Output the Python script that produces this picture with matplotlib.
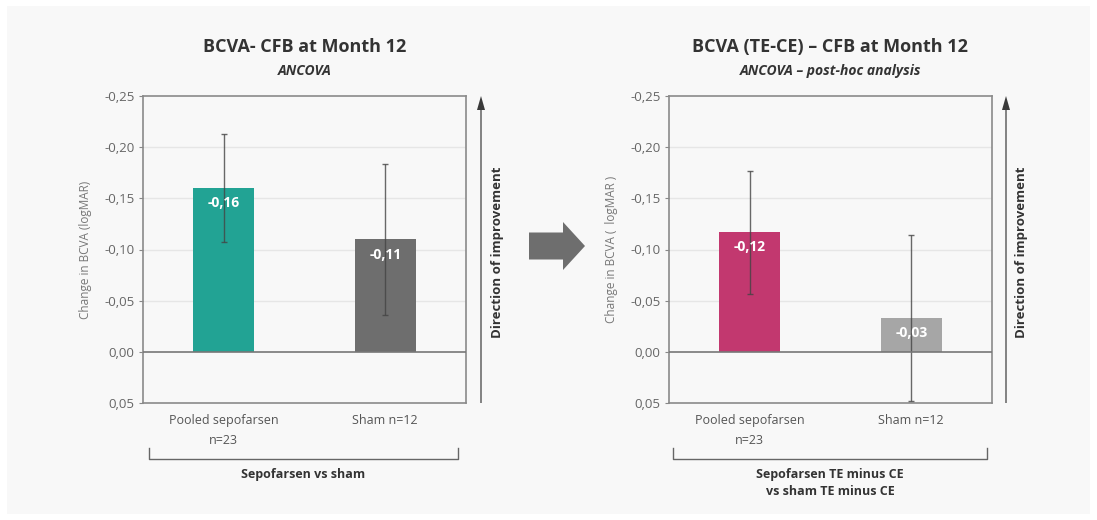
import matplotlib.pyplot as plt
from matplotlib.patches import Rectangle, FancyArrow

plt.rcParams['font.family'] = ['Open Sans', 'DejaVu Sans']

# data
groups = ["Pooled sepofarsen\nn=23", "Sham n=12"]
left_values = [-0.16, -0.11]
left_err = [0.053, 0.074]
right_values = [-0.117, -0.033]
right_err = [0.06, 0.081]
value_labels_left = ["-0,16", "-0,11"]
value_labels_right = ["-0,12", "-0,03"]
ticks = [-0.25, -0.20, -0.15, -0.10, -0.05, 0.00, 0.05]
tick_labels = ["-0,25", "-0,20", "-0,15", "-0,10", "-0,05", "0,00", "0,05"]

W, H = 1097, 520
fig = plt.figure(figsize=(W / 100, H / 100), dpi=100, facecolor="white")
fig.patches.append(Rectangle((7 / W, 1 - 514 / H), 1083 / W, 508 / H,
                             transform=fig.transFigure, facecolor="#f8f8f8",
                             edgecolor="none", zorder=-5))


def px(x0, y0, x1, y1):
    return [x0 / W, 1 - y1 / H, (x1 - x0) / W, (y1 - y0) / H]


def panel(rect, values, errs, labels, colors, title, subtitle, ylabel,
          group_text, arrow_x, bracket):
    ax = fig.add_axes(px(*rect))
    ax.set_facecolor("none")
    xs = [0.5, 1.5]
    ax.bar(xs, values, width=0.38, color=colors, zorder=2)
    ax.errorbar(xs, values, yerr=errs, fmt="none", ecolor="#444444",
                elinewidth=1.0, capsize=2.5, capthick=1.0, alpha=0.8, zorder=3)
    for x, v, lab in zip(xs, values, labels):
        ax.text(x, v + 0.015, lab, ha="center", va="center", color="white",
                fontsize=10, fontweight="bold", zorder=4)
    ax.set_xlim(0, 2)
    ax.set_ylim(0.05, -0.25)
    ax.set_yticks(ticks)
    ax.set_yticklabels(tick_labels, fontsize=9.5, color="#666666")
    ax.tick_params(axis="y", length=3, color="#888888", pad=3)
    ax.set_xticks(xs)
    ax.set_xticklabels(groups, fontsize=9, color="#555555", linespacing=1.7)
    ax.tick_params(axis="x", length=0, pad=8)
    for y in [-0.20, -0.15, -0.10, -0.05]:
        ax.axhline(y, color="#e6e6e6", lw=1, zorder=1)
    ax.axhline(0, color="#777777", lw=1.2, zorder=3)
    for s in ax.spines.values():
        s.set_color("#8a8a8a")
        s.set_linewidth(1.2)
    ax.set_ylabel(ylabel, fontsize=8.5, color="#777777", labelpad=9)

    cx = (rect[0] + rect[2]) / 2
    fig.text(cx / W, 1 - 47 / H, title, ha="center", va="center",
             fontsize=13, fontweight="bold", color="#333333")
    fig.text(cx / W, 1 - 71 / H, subtitle, ha="center", va="center",
             fontsize=10, fontweight="bold", style="italic", color="#333333")

    # direction of improvement arrow
    fig.patches.append(FancyArrow(arrow_x / W, 1 - 403 / H, 0, (403 - 96) / H,
                                  width=1.2 / W, head_width=8 / W,
                                  head_length=14 / H, length_includes_head=True,
                                  transform=fig.transFigure, color="#3a3a3a",
                                  lw=0))
    fig.text((arrow_x + 16) / W, 1 - 252 / H, "Direction of improvement",
             rotation=90, ha="center", va="center", fontsize=9.5,
             fontweight="bold", color="#333333")

    # bracket under group labels
    bx0, bx1 = bracket
    fig.lines.append(plt.Line2D([bx0 / W, bx0 / W, bx1 / W, bx1 / W],
                                [1 - 448 / H, 1 - 459 / H, 1 - 459 / H, 1 - 448 / H],
                                transform=fig.transFigure, color="#666666", lw=1))
    fig.text((bx0 + bx1) / 2 / W, 1 - 468 / H, group_text, ha="center",
             va="top", fontsize=9, fontweight="bold", color="#333333",
             linespacing=1.4)
    return ax


panel((143, 96, 466, 403), left_values, left_err, value_labels_left,
      ["#22a394", "#6e6e6e"], "BCVA- CFB at Month 12", "ANCOVA",
      "Change in BCVA (logMAR)", "Sepofarsen vs sham", 481, (149, 458))

panel((669, 96, 992, 403), right_values, right_err, value_labels_right,
      ["#c2386f", "#a6a6a6"], "BCVA (TE-CE) – CFB at Month 12",
      "ANCOVA – post-hoc analysis", "Change in BCVA (  logMAR )",
      "Sepofarsen TE minus CE\nvs sham TE minus CE", 1006, (673, 987))

# big block arrow between panels
fig.patches.append(FancyArrow(529 / W, 1 - 246 / H, 34 / W, 0,
                              width=27 / H, head_width=48 / H, head_length=22 / W,
                              transform=fig.transFigure, color="#6e6e6e",
                              lw=0))

fig.savefig("out.png", dpi=100, facecolor="white")
